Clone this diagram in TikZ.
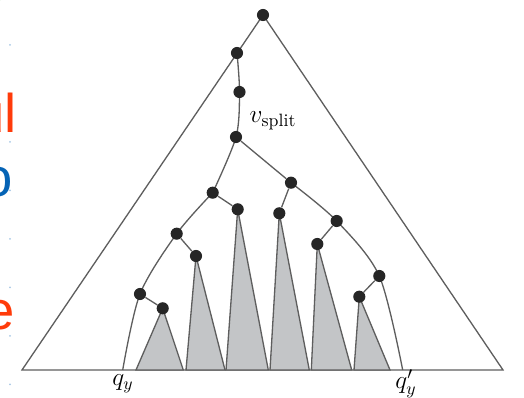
\documentclass[tikz,border=0pt]{standalone}
\usepackage{amsmath}
\usepackage{fontspec}
\usepackage{tikz}
\newfontfamily\folienschrift{Liberation Sans}
\definecolor{strichgrau}{HTML}{5E5E5E}
\definecolor{punkt}{HTML}{262626}
\definecolor{grau}{HTML}{C3C5C7}
\definecolor{folienrot}{HTML}{FF3B0A}
\definecolor{folienblau}{HTML}{0563B5}
\definecolor{foliengruen}{HTML}{1B9A1B}
\usetikzlibrary{backgrounds}

\begin{document}
\begin{tikzpicture}[x=0.02cm, y=-0.02cm,
		knoten/.style={circle, fill=punkt, inner sep=0pt, minimum size=6.9pt},
		linie/.style={draw=strichgrau, line width=0.75pt},
		teilbaum/.style={fill=grau, draw=strichgrau, line width=0.75pt},
		folie/.style={anchor=base east, inner sep=0pt, font=\folienschrift\fontsize{31}{36}\selectfont},
		marke/.style={font=\fontsize{14.5}{17}\selectfont}]

		%Rahmen
		\useasboundingbox (0,0) rectangle (524,398);
		\clip (0,0) rectangle (524,398);

		%Reste der Folie am Rand
		\foreach \y in {45,93.5,142,190.5,239,287.5,336,384.5}
			\fill[folienblau!35] (10,\y) circle (1);
		\node[folie, text=folienrot] (frag1) at (17,133) {ul};
		\node[folie, text=folienblau] (frag2) at (13.5,197) {o};
		\node[folie, text=folienrot] (frag3) at (15,330) {e};
		\node[folie, text=foliengruen] (frag4) at (6,5) {o};

		%Knoten Suchpfad
		\node[knoten] (wurzel) at (263,15) {};
		\node[knoten] (n1) at (237,53) {};
		\node[knoten] (n2) at (239.5,92) {};
		\node[knoten] (vsplit) at (236,137) {};

		%linker Ast
		\node[knoten] (l1) at (212.7,192.7) {};
		\node[knoten] (l1b) at (237.7,209.3) {};
		\node[knoten] (l2) at (176.7,233.7) {};
		\node[knoten] (l2b) at (196,256) {};
		\node[knoten] (l3) at (140,294) {};
		\node[knoten] (l3b) at (162.7,308.3) {};

		%rechter Ast
		\node[knoten] (r1) at (291,182.7) {};
		\node[knoten] (r1b) at (279.3,213.3) {};
		\node[knoten] (r2) at (336.7,221) {};
		\node[knoten] (r2b) at (317.3,244) {};
		\node[knoten] (r3) at (379.3,276) {};
		\node[knoten] (r3b) at (359.3,296.7) {};

		\coordinate (A) at (22,370);
		\coordinate (B) at (503,370);
		\coordinate (qy) at (122.7,370);
		\coordinate (qyr) at (402.7,370);

		%Beschriftung
		\node[marke] (lsplit) at (273,121) {$v_{\mathrm{split}}$};
		\node[marke] (lqy) at (123,384) {$q_y$};
		\node[marke] (lqyr) at (406,384) {$q'_y$};

		\begin{scope}[on background layer]
			%Grunddreieck
			\draw[linie] (wurzel.center) -- (A) -- (B) -- cycle;

			%Teilbaeume
			\foreach \spitze/\links/\rechts in {l3b/136/183.3, l2b/186/225, l1b/226/268.3, r1b/270/309.3, r2b/311.3/351.7, r3b/354/390}
				\filldraw[teilbaum] (\spitze.center) -- (\links,370) -- (\rechts,370) -- cycle;

			%Pfade
			\draw[linie] plot[smooth] coordinates {(n1) (n2) (vsplit) (l1)};
			\draw[linie] plot[smooth] coordinates {(l1) (l2) (l3) (qy)};
			\draw[linie] (vsplit) -- (r1);
			\draw[linie] plot[smooth] coordinates {(r1) (r2) (r3) (qyr)};
			\foreach \a/\b in {l1/l1b, l2/l2b, l3/l3b, r1/r1b, r2/r2b, r3/r3b}
				\draw[linie] (\a) -- (\b);
		\end{scope}
\end{tikzpicture}
\end{document}
